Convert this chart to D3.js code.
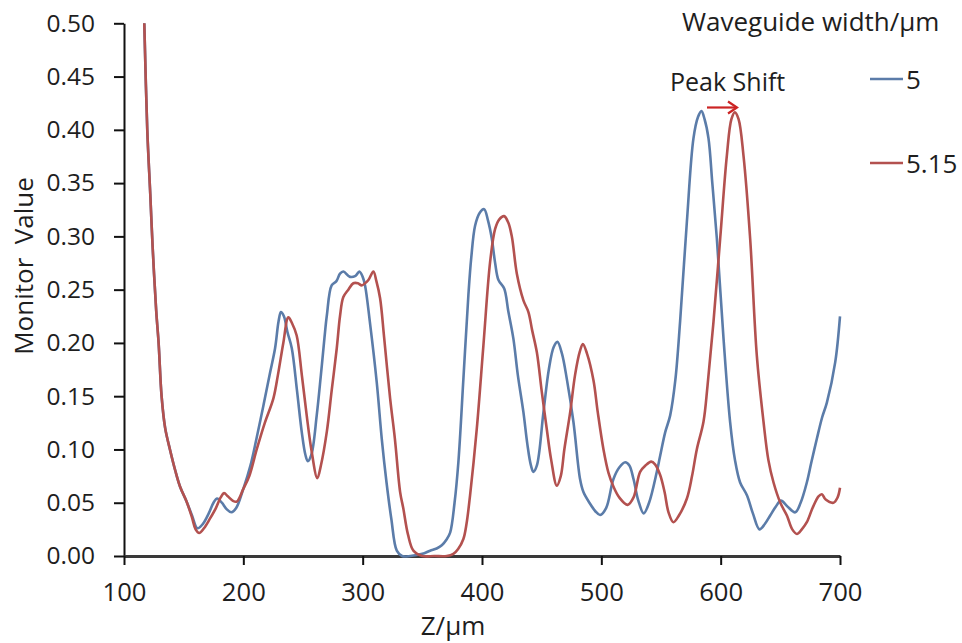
<!DOCTYPE html>
<html>
<head>
<meta charset="utf-8">
<script src="https://cdn.jsdelivr.net/npm/d3@7"></script>
<style>
  html, body { margin: 0; padding: 0; background: #fff; }
  svg { display: block; font-family: "Open Sans", "Liberation Sans", sans-serif; }
</style>
</head>
<body>
<svg id="chart" width="962" height="643"></svg>
<script>
// Monitor value along the propagation distance Z for two waveguide widths
const seriesNames = ["5", "5.15"];
const xTicks = [100, 200, 300, 400, 500, 600, 700];
const yTicks = [0, 0.05, 0.10, 0.15, 0.20, 0.25, 0.30, 0.35, 0.40, 0.45, 0.50];

// width 5 µm: [Z (µm), monitor value]
const width5 = [
  [117,0.50],[119.5,0.40],[122,0.34],[124,0.29],[127,0.23],[129,0.20],[131.5,0.15],[134.5,0.12],
  [138.5,0.10],[143,0.08],[147,0.065],[152.5,0.051],[157,0.038],[161.5,0.026],[166,0.03],[171,0.04],
  [175,0.05],[178,0.054],[182,0.05],[186,0.044],[190,0.041],[194,0.045],[200,0.063],[206,0.085],
  [211,0.11],[216.8,0.141],[222,0.17],[226.6,0.195],[229.5,0.22],[231.5,0.229],[234,0.225],[237,0.21],
  [240.6,0.195],[245,0.155],[249,0.116],[252,0.095],[254,0.089],[257,0.095],[261.5,0.132],[265,0.17],
  [268,0.205],[270,0.226],[274,0.254],[278,0.258],[281,0.265],[283.8,0.267],[289.4,0.262],[294,0.263],
  [297.2,0.267],[300,0.262],[302,0.254],[306,0.22],[311.8,0.163],[316,0.11],[320,0.069],[324,0.035],
  [328.6,0.005],[333,0.0],[340,0.0],[350,0.002],[356.5,0.005],[362,0.007],[366.3,0.01],[370,0.015],
  [373.3,0.022],[377,0.05],[380.2,0.088],[384.4,0.166],[388.6,0.245],[391,0.28],[394.2,0.31],[398,0.322],
  [401.8,0.3255],[405,0.315],[408.2,0.298],[411,0.275],[413.8,0.259],[418.6,0.251],[422,0.23],[426.3,0.204],
  [430,0.17],[434.7,0.135],[438,0.105],[441,0.085],[443.1,0.079],[446,0.085],[451.5,0.135],[456,0.175],
  [460,0.196],[463.2,0.201],[467,0.19],[471.1,0.166],[476.6,0.126],[482.2,0.072],[485,0.06],[490,0.05],
  [495,0.042],[499,0.0385],[504,0.045],[510.1,0.072],[515,0.083],[520,0.088],[523.5,0.085],[527,0.072],
  [531,0.052],[535.5,0.040],[540,0.05],[546.5,0.079],[549.3,0.094],[553.5,0.116],[557.7,0.132],[562,0.165],
  [566,0.22],[571.7,0.314],[577.2,0.392],[581,0.412],[583.9,0.4176],[586.5,0.41],[589.8,0.392],[593,0.35],
  [596.8,0.298],[602.4,0.204],[607.9,0.126],[612,0.09],[616.3,0.069],[622,0.057],[627,0.04],[632.5,0.025],
  [637,0.03],[641.5,0.038],[646,0.046],[650.5,0.052],[655.5,0.047],[662.5,0.041],[667,0.05],[672.2,0.069],
  [676,0.088],[680.6,0.11],[685,0.13],[689,0.144],[696,0.182],[700,0.225]
];

// width 5.15 µm: [Z (µm), monitor value]
const width515 = [
  [117,0.50],[119.5,0.40],[122,0.34],[124,0.29],[127,0.23],[129,0.20],[131.5,0.15],[134.5,0.12],
  [138.5,0.10],[143,0.08],[147,0.065],[152.5,0.051],[157,0.036],[160,0.025],[163,0.0216],[167,0.026],
  [172,0.035],[177,0.045],[181,0.055],[183.8,0.059],[187,0.056],[191,0.052],[194.4,0.051],[200,0.063],
  [205,0.075],[211.2,0.10],[218,0.125],[225.2,0.148],[229,0.17],[233.5,0.20],[237.7,0.224],[241,0.218],
  [244.7,0.207],[249,0.17],[253.1,0.132],[257,0.1],[262,0.073],[265,0.085],[270,0.117],[274,0.155],
  [278.3,0.195],[281,0.225],[283.8,0.243],[288,0.25],[292.2,0.256],[296,0.256],[299.2,0.254],[302,0.256],
  [304.8,0.259],[309,0.267],[311.5,0.258],[314.6,0.242],[318,0.205],[323,0.148],[327,0.11],[331.4,0.06],
  [334,0.045],[338,0.02],[342.5,0.005],[350,0.0],[360,0.0],[370.5,0.0],[376,0.002],[380,0.0066],
  [384.4,0.016],[387,0.03],[390,0.057],[395.6,0.119],[401.2,0.198],[406.8,0.276],[411,0.307],[414.5,0.316],
  [418.5,0.319],[422,0.313],[425,0.300],[429.2,0.265],[434.7,0.240],[438.9,0.229],[442,0.212],[446,0.191],
  [450,0.155],[454.3,0.119],[458,0.09],[462.7,0.066],[466,0.075],[469,0.1],[473.9,0.135],[478,0.17],
  [482,0.192],[484.5,0.199],[488,0.19],[493.4,0.165],[497,0.135],[501.8,0.10],[506,0.078],[510.2,0.065],
  [515,0.055],[522,0.048],[527,0.055],[532.5,0.079],[537,0.085],[541.8,0.0886],[545,0.086],[549.3,0.076],
  [553,0.06],[556.3,0.041],[560.4,0.0317],[565,0.038],[571.7,0.054],[576,0.075],[580,0.10],[585.6,0.126],
  [589,0.16],[594,0.22],[599.6,0.298],[605.2,0.376],[609,0.41],[611.9,0.4164],[615,0.41],[619.1,0.376],
  [624.7,0.298],[630.3,0.188],[635.9,0.126],[640,0.09],[644.3,0.069],[650,0.05],[655.5,0.038],[660,0.025],
  [663.9,0.0207],[668,0.025],[672.2,0.0317],[677,0.045],[682,0.056],[684.8,0.058],[688,0.053],[694.5,0.050],
  [698,0.055],[700,0.064]
];

const colors = ["#5b7ca9", "#b3514f"];
const textColor = "#1e1e1e";

const svg = d3.select("#chart");
const x = d3.scaleLinear().domain([100, 700]).range([124, 840]);
const y = d3.scaleLinear().domain([0, 0.5]).range([556, 23.3]);

// Y axis
const yAxis = svg.append("g")
  .attr("transform", `translate(${x(100)},0)`)
  .call(d3.axisLeft(y).tickValues(yTicks).tickFormat(d3.format(".2f"))
        .tickSize(10).tickSizeOuter(0).tickPadding(19));
yAxis.select(".domain").attr("stroke", "#111").attr("stroke-width", 2);
yAxis.selectAll(".tick line").attr("stroke", "#111").attr("stroke-width", 2);
yAxis.selectAll(".tick text").attr("font-size", 24.5).attr("fill", textColor)
  .attr("font-family", "'Open Sans', sans-serif");

// X axis
const xAxis = svg.append("g")
  .attr("transform", `translate(0,${y(0)})`)
  .call(d3.axisBottom(x).tickValues(xTicks).tickFormat(d3.format("d"))
        .tickSize(9).tickSizeOuter(0).tickPadding(18));
xAxis.select(".domain").attr("stroke", "#3a3a3a").attr("stroke-width", 3);
xAxis.selectAll(".tick line").attr("stroke", "#111").attr("stroke-width", 2);
xAxis.selectAll(".tick text").attr("font-size", 26).attr("fill", textColor)
  .attr("font-family", "'Open Sans', sans-serif").attr("textLength", 44).attr("lengthAdjust", "spacingAndGlyphs");

// Axis titles
svg.append("text")
  .attr("x", 453).attr("y", 635)
  .attr("text-anchor", "middle")
  .attr("font-size", 26).attr("fill", textColor)
  .text("Z/μm");

svg.append("text")
  .attr("transform", "translate(33,266) rotate(-90)")
  .attr("text-anchor", "middle")
  .attr("font-size", 26).attr("fill", textColor)
  .attr("xml:space", "preserve")
  .text("Monitor  Value");

// Curves
const line = d3.line()
  .x(d => x(d[0]))
  .y(d => y(d[1]))
  .curve(d3.curveCatmullRom.alpha(0.5));

[width5, width515].forEach((data, i) => {
  svg.append("path")
    .datum(data)
    .attr("fill", "none")
    .attr("stroke", colors[i])
    .attr("stroke-width", 2.6)
    .attr("stroke-linejoin", "round")
    .attr("d", line);
});

// Legend
svg.append("text")
  .attr("x", 682).attr("y", 31)
  .attr("font-size", 26).attr("fill", textColor)
  .text("Waveguide width/μm");

const legendRows = [79, 163];
seriesNames.forEach((name, i) => {
  svg.append("line")
    .attr("x1", 870).attr("x2", 903)
    .attr("y1", legendRows[i]).attr("y2", legendRows[i])
    .attr("stroke", colors[i]).attr("stroke-width", 2.6);
  svg.append("text")
    .attr("x", 906).attr("y", legendRows[i] + 9.5)
    .attr("font-size", 26).attr("fill", textColor)
    .text(name);
});

// Peak shift annotation
svg.append("text")
  .attr("x", 670).attr("y", 91)
  .attr("font-size", 25).attr("fill", textColor)
  .text("Peak Shift");

const arrowY = 107.5;
svg.append("line")
  .attr("x1", 707).attr("x2", 736)
  .attr("y1", arrowY).attr("y2", arrowY)
  .attr("stroke", "#cc2424").attr("stroke-width", 2.2);
svg.append("path")
  .attr("d", `M728,${arrowY - 6} L737,${arrowY} L728,${arrowY + 6}`)
  .attr("fill", "none")
  .attr("stroke", "#cc2424").attr("stroke-width", 2.2)
  .attr("stroke-linejoin", "miter");
</script>
</body>
</html>
